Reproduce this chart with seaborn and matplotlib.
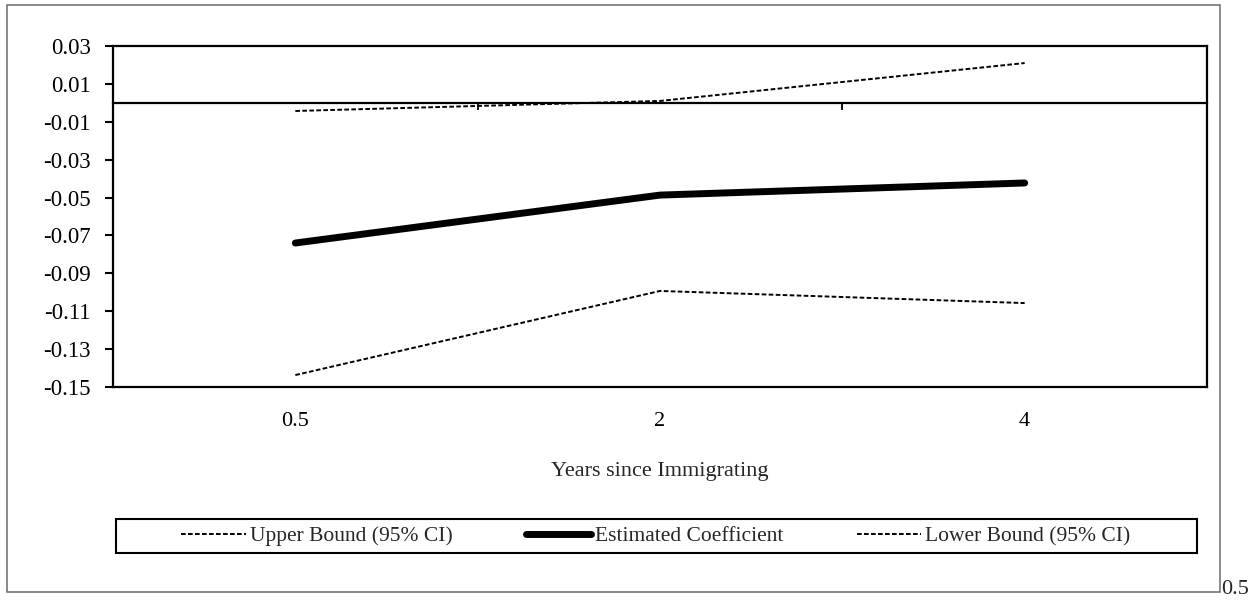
import matplotlib
matplotlib.use("Agg")
import matplotlib.pyplot as plt
import seaborn as sns
import pandas as pd
from matplotlib.patches import Rectangle

# Estimated coefficient by years since immigrating, with 95% CI bounds
years = ["0.5", "2", "4"]
upper_bound = [-0.0043, 0.0010, 0.0210]
estimate = [-0.0740, -0.0487, -0.0423]
lower_bound = [-0.1437, -0.0993, -0.1057]

y_ticks = [-0.15, -0.13, -0.11, -0.09, -0.07, -0.05, -0.03, -0.01, 0.01, 0.03]
y_tick_labels = ["-0.15", "-0.13", "-0.11", "-0.09", "-0.07", "-0.05",
                 "-0.03", "-0.01", "0.01", "0.03"]

sns.set_theme(style="white")
plt.rcParams["font.family"] = ["Liberation Serif", "DejaVu Serif"]
plt.rcParams["axes.unicode_minus"] = False

W, H = 1258, 601
fig = plt.figure(figsize=(W / 100, H / 100), dpi=100)
fig.patch.set_facecolor("white")

def fx(px):
    return px / W

def fy(py):
    return 1 - py / H

ax = fig.add_axes([fx(113), fy(387), fx(1207) - fx(113), fy(46) - fy(387)])

df = pd.DataFrame({"year": years, "upper": upper_bound,
                   "estimate": estimate, "lower": lower_bound})

dash = (0, (2.4, 1.2))
sns.lineplot(data=df, x="year", y="upper", ax=ax, color="black",
             linewidth=1.4, linestyle=dash, label="Upper Bound (95% CI)")
sns.lineplot(data=df, x="year", y="estimate", ax=ax, color="black",
             linewidth=5, solid_capstyle="round",
             label="Estimated Coefficient")
sns.lineplot(data=df, x="year", y="lower", ax=ax, color="black",
             linewidth=1.4, linestyle=dash, label="Lower Bound (95% CI)")

ax.set_xlim(-0.5, 2.5)
ax.set_ylim(-0.15, 0.03)
ax.set_yticks(y_ticks)
ax.set_yticklabels(y_tick_labels)
ax.set_ylabel("")
ax.set_xlabel("Years since Immigrating", fontsize=16, labelpad=22)
ax.tick_params(axis="y", length=6, width=1.5, direction="out",
               labelsize=16.5, pad=10, colors="black", left=True)
ax.tick_params(axis="x", length=0, labelsize=16, pad=18, colors="black")
for s in ax.spines.values():
    s.set_visible(True)
    s.set_color("black")
    s.set_linewidth(1.6)

# Category axis crossing at zero, with ticks between categories
zero_axis = ax.secondary_xaxis(0, transform=ax.transData)
zero_axis.set_xticks([0.5, 1.5])
zero_axis.set_xticklabels(["", ""])
zero_axis.tick_params(axis="x", direction="out", length=5, width=1.3,
                      colors="black")
zero_axis.spines["bottom"].set_linewidth(1.6)
zero_axis.spines["bottom"].set_color("black")

handles, labels = ax.get_legend_handles_labels()
ax.get_legend().remove()
fig.legend(handles, labels, loc="center", ncol=3, frameon=False,
           bbox_to_anchor=(fx(656), fy(536)), fontsize=15.5,
           handlelength=3.0, handletextpad=0.2, columnspacing=3.4)
fig.add_artist(Rectangle((fx(116), fy(553)), fx(1197) - fx(116),
                         fy(519) - fy(553), transform=fig.transFigure,
                         fill=False, edgecolor="black", linewidth=1.5))

# Outer chart frame
fig.add_artist(Rectangle((fx(7), fy(592)), fx(1220) - fx(7),
                         fy(5) - fy(592), transform=fig.transFigure,
                         fill=False, edgecolor="#6a6a6a", linewidth=1.1))
fig.text(fx(1221), fy(599), "0.5", fontsize=16, ha="left", va="bottom")

fig.savefig("out.png", dpi=100, facecolor="white")
